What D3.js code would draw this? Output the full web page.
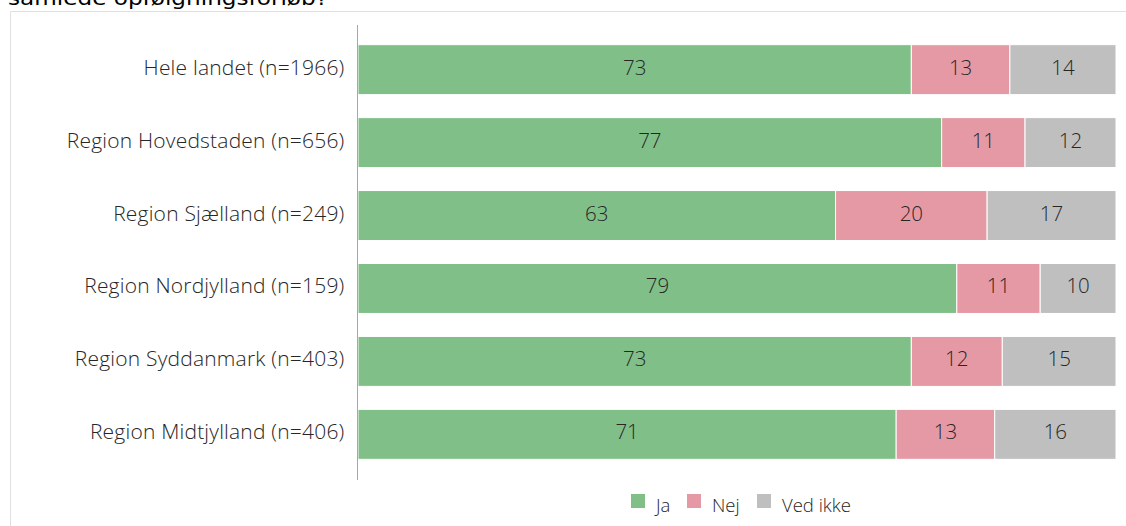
<!DOCTYPE html>
<html><head><meta charset="utf-8">
<script src="https://cdn.jsdelivr.net/npm/d3@7"></script>
<style>body{margin:0;background:#fff}svg{display:block}</style>
</head><body><svg id="c" width="1126" height="526"></svg>
<script>
const categories = ["Hele landet (n=1966)","Region Hovedstaden (n=656)","Region Sjælland (n=249)","Region Nordjylland (n=159)","Region Syddanmark (n=403)","Region Midtjylland (n=406)"];
const seriesNames = ["Ja","Nej","Ved ikke"];
const ja = [73,77,63,79,73,71];
const nej = [13,11,20,11,12,13];
const vedIkke = [14,12,17,10,15,16];
const colors = ["#81bf89","#e599a5","#bfbfbf"];

const svg = d3.select("#c");
const font = "'Open Sans', 'Liberation Sans', sans-serif";

svg.append("text").attr("x",8).attr("y",5).attr("font-family","'DejaVu Sans', sans-serif")
  .attr("font-size",20).attr("fill","#000").attr("textLength",320).attr("lengthAdjust","spacingAndGlyphs")
  .text("samlede opfølgningsforløb?");

svg.append("path").attr("d","M10.5,526 V11.5 H1126").attr("fill","none").attr("stroke","#e0e0e0");

const x = d3.scaleLinear().domain([0,100]).range([358,1116]);
const y = d3.scaleBand().domain(categories).range([33,471]).paddingInner(0.315).paddingOuter(0.16);

const data = categories.map((c,i)=>({cat:c, Ja:ja[i], Nej:nej[i], "Ved ikke":vedIkke[i]}));
const stack = d3.stack().keys(seriesNames)(data);

const g = svg.append("g");
stack.forEach((s,si)=>{
  const grp = g.append("g");
  grp.selectAll("rect").data(s).join("rect")
    .attr("x",d=>x(d[0])).attr("width",d=>x(d[1])-x(d[0]))
    .attr("y",d=>y(d.data.cat)).attr("height",y.bandwidth())
    .attr("fill",colors[si]).attr("stroke","#fff").attr("stroke-width",1);
  grp.selectAll("text").data(s).join("text")
    .attr("x",d=>(x(d[0])+x(d[1]))/2).attr("y",d=>y(d.data.cat)+y.bandwidth()/2+5)
    .attr("text-anchor","middle")
    .attr("font-family",font).attr("font-weight",300).attr("font-size",20.5).attr("fill","#262626")
    .text(d=>d[1]-d[0]);
});

const ax = svg.append("g").attr("transform","translate(357.5,0)")
  .call(d3.axisLeft(y).tickSize(0).tickPadding(13));
ax.select(".domain").remove();
ax.append("line").attr("x1",0).attr("x2",0).attr("y1",25).attr("y2",480).attr("stroke","#a6a6a6");
ax.selectAll(".tick text").attr("dy",null).attr("y",5).attr("font-family",font).attr("font-weight",300)
  .attr("font-size",21).attr("letter-spacing",0.2).attr("fill","#262626");

const leg = svg.append("g");
const lx = [631,687,757];
seriesNames.forEach((n,i)=>{
  leg.append("rect").attr("x",lx[i]).attr("y",494).attr("width",14).attr("height",14).attr("fill",colors[i]);
  leg.append("text").attr("x",lx[i]+25).attr("y",512)
    .attr("font-family",font).attr("font-weight",300).attr("font-size",18.5).attr("fill","#262626").text(n);
});
</script></body></html>
